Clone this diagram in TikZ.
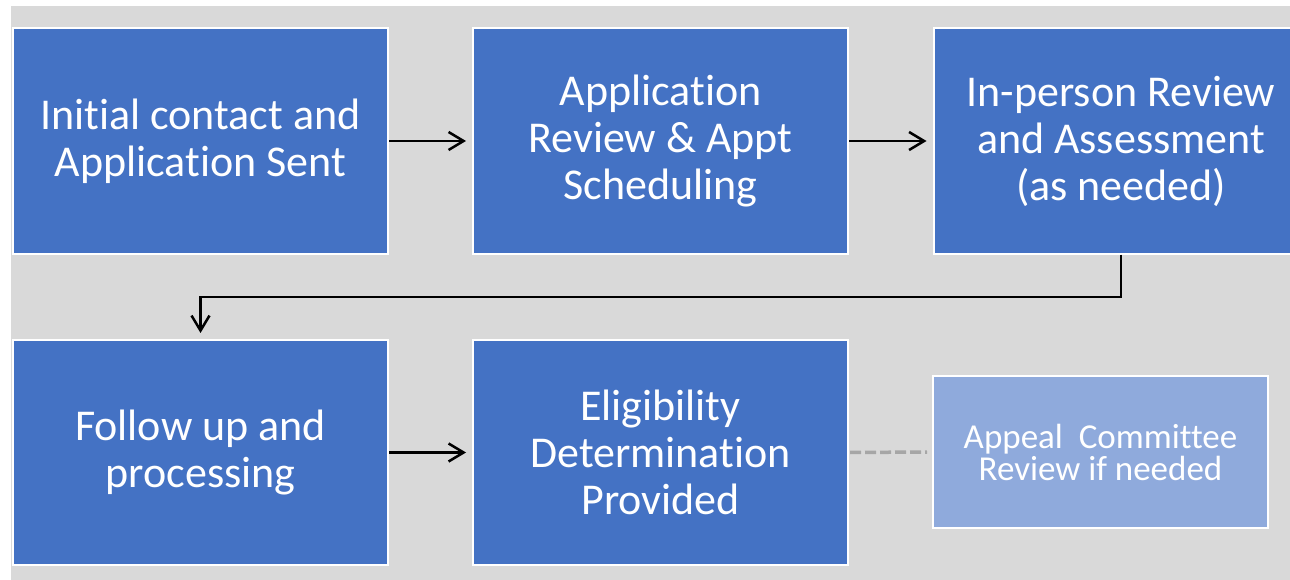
\documentclass[tikz,border=0pt]{standalone}
\usepackage{fontspec}
\setmainfont{Carlito}[Ligatures={NoCommon}]
\usetikzlibrary{arrows.meta}
\definecolor{bgc}{HTML}{D9D9D9}
\definecolor{boxc}{HTML}{4472C4}
\definecolor{lboxc}{HTML}{8FAADC}
\definecolor{dashc}{HTML}{A6A6A6}
\begin{document}
\begin{tikzpicture}[x=1bp,y=-1bp,
  stepbox/.style={fill=boxc,draw=white,line width=2bp,minimum width=375bp,minimum height=225bp,inner sep=0pt,text=white,align=center,font=\fontsize{44bp}{47bp}\selectfont},
  lightbox/.style={fill=lboxc,draw=white,line width=2bp,minimum width=335bp,minimum height=152bp,inner sep=0pt,text=white,align=center,font=\fontsize{35bp}{32bp}\selectfont},
  conn/.style={line width=2.5bp,shorten >=6bp,-{Straight Barb[length=15bp,width=18bp,line width=2.5bp]}}]
\useasboundingbox (0,0) rectangle (1290,580);
\fill[bgc] (11,6) rectangle (1290,580);
\begin{scope}
\clip (0,0) rectangle (1290,580);
\node[stepbox] (a) at (200.5,141) {Initial contact and\\Application Sent};
\node[stepbox] (b) at (660.5,141) {Application\\Review \& Appt\\Scheduling};
\node[stepbox] (c) at (1121,141) {In-person Review\\and Assessment\\(as needed)};
\node[stepbox] (d) at (200.5,452.5) {Follow up and\\processing};
\node[stepbox] (e) at (660.5,452.5) {Eligibility\\Determination\\Provided};
\node[lightbox] (f) at (1100.5,452) {Appeal\ \ Committee\\Review if needed};
\end{scope}
\coordinate (k1) at (1121,297);
\coordinate (k2) at (200.5,297);
\draw[conn] (a.east) -- (b.west);
\draw[conn] (b.east) -- (c.west);
\draw[conn] (d.east) -- (e.west);
\draw[conn] (c.south) -- (k1) -- (k2) -- (d.north);
\draw[line width=3.5bp,draw=dashc,dash pattern=on 11bp off 4bp] ([xshift=1bp]e.east) -- ([xshift=-5bp]f.west);
\end{tikzpicture}
\end{document}
